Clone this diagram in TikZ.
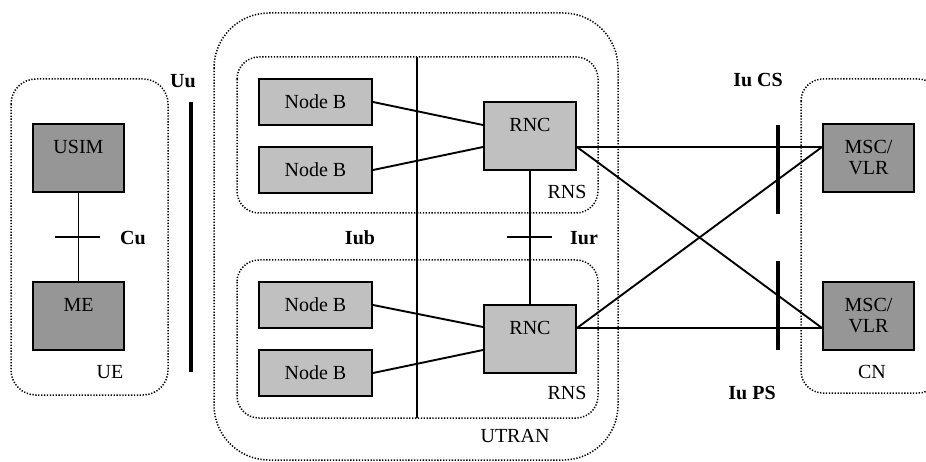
\documentclass[tikz,border=0pt]{standalone}
\usepackage{fontspec}
\setmainfont{Liberation Serif}
\definecolor{lightbox}{RGB}{192,192,192}
\definecolor{darkbox}{RGB}{150,150,150}
\begin{document}
\begin{tikzpicture}[x=1pt,y=-1pt,
  font=\fontsize{20}{21}\selectfont,
  box/.style={draw=black, line width=2pt, inner sep=0pt, align=center},
  nodeb/.style={box, fill=lightbox, minimum width=113pt, minimum height=46pt},
  rnc/.style={box, fill=lightbox, minimum width=92pt, text height=29.5pt, text depth=38.5pt},
  uebox/.style={box, fill=darkbox, minimum width=91pt, text height=29.5pt, text depth=38.5pt},
  cnbox/.style={box, fill=darkbox, minimum width=91pt, minimum height=68pt},
  dotbox/.style={line width=1.5pt, dash pattern=on 1.3pt off 1.6pt},
  link/.style={line width=1.9pt},
  bar/.style={line width=3.6pt},
  iflabel/.style={font=\fontsize{20}{21}\selectfont\bfseries},
  plain/.style={inner sep=0pt}
]
\useasboundingbox (0,0) rectangle (926,462);

% area outlines
\draw[dotbox, rounded corners=25pt] (11,79) rectangle (168,395);
\draw[dotbox, rounded corners=55pt] (214,13) rectangle (618,460);
\draw[dotbox, rounded corners=22pt] (237,57) rectangle (598,213);
\draw[dotbox, rounded corners=22pt] (237,260) rectangle (598,418);
\begin{scope}
  \clip (0,0) rectangle (926,462);
  \draw[dotbox, rounded corners=22pt] (801,79) rectangle (940,393);
\end{scope}

% user equipment
\node[uebox] (usim) at (78.5,158) {USIM};
\node[uebox] (me) at (78.5,316) {ME};
\draw[link] (usim.south) -- (me.north);
\coordinate (cuA) at (55,237);
\coordinate (cuB) at (100,237);
\draw[link] (cuA) -- (cuB);
\node[plain, iflabel] (cu) at (133,238) {Cu};
\node[plain] (ue) at (110,372) {UE};

% radio interface
\coordinate (uuA) at (191,102);
\coordinate (uuB) at (191,372);
\draw[bar] (uuA) -- (uuB);
\node[plain, iflabel] (uu) at (183,81) {Uu};

% radio network subsystems
\node[nodeb] (nb1) at (315.5,102) {Node B};
\node[nodeb] (nb2) at (315.5,170) {Node B};
\node[nodeb] (nb3) at (315.5,305) {Node B};
\node[nodeb] (nb4) at (315.5,373) {Node B};
\node[rnc] (rnc1) at (530,136) {RNC};
\node[rnc] (rnc2) at (530,339) {RNC};

\coordinate (iubA) at (417,57);
\coordinate (iubB) at (417,418);
\draw[link] (iubA) -- (iubB);
\node[plain, iflabel] (iub) at (360,238) {Iub};

\draw[link] (nb1.east) -- ([yshift=11pt]rnc1.west);
\draw[link] (nb2.east) -- ([yshift=-11pt]rnc1.west);
\draw[link] (nb3.east) -- ([yshift=12pt]rnc2.west);
\draw[link] (nb4.east) -- ([yshift=-11pt]rnc2.west);

\draw[link] (rnc1.south) -- (rnc2.north);
\coordinate (iurA) at (507,237);
\coordinate (iurB) at (552,237);
\draw[link] (iurA) -- (iurB);
\node[plain, iflabel] (iur) at (584,238) {Iur};

\node[plain] (rns1) at (567,192) {RNS};
\node[plain] (rns2) at (567,393) {RNS};
\node[plain] (utran) at (515,436) {UTRAN};

% core network
\node[cnbox] (msc1) at (868.5,158) {MSC/\\VLR};
\node[cnbox] (msc2) at (868.5,316) {MSC/\\VLR};
\node[plain] (cn) at (872,372) {CN};

\draw[link] ([yshift=-11pt]rnc1.east) -- ([yshift=11pt]msc1.west);
\draw[link] ([yshift=-11pt]rnc1.east) -- ([yshift=-12pt]msc2.west);
\draw[link] ([yshift=11pt]rnc2.east) -- ([yshift=-12pt]msc2.west);
\draw[link] ([yshift=11pt]rnc2.east) -- ([yshift=11pt]msc1.west);

\coordinate (csA) at (778,125);
\coordinate (csB) at (778,214);
\coordinate (psA) at (778,261);
\coordinate (psB) at (778,350);
\draw[bar] (csA) -- (csB);
\draw[bar] (psA) -- (psB);
\node[plain, iflabel] (iucs) at (758,80) {Iu CS};
\node[plain, iflabel] (iups) at (752,393) {Iu PS};
\end{tikzpicture}
\end{document}
